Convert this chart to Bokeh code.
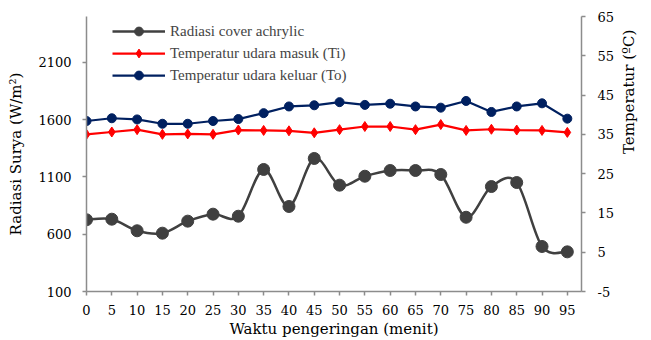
import math
from bokeh.plotting import figure
from bokeh.models import Range1d, LinearAxis, Legend, LegendItem, FixedTicker, ColumnDataSource
from bokeh.embed import file_html
from bokeh.resources import INLINE

# ---- data ----
waktu = [0, 5, 10, 15, 20, 25, 30, 35, 40, 45, 50, 55, 60, 65, 70, 75, 80, 85, 90, 95]
radiasi = [726, 731, 630, 609, 714, 775, 757, 1165, 842, 1261, 1028, 1106, 1156, 1156, 1121, 748, 1016, 1051, 493, 446]
temp_masuk = [35.0, 35.6, 36.2, 35.0, 35.1, 35.0, 36.1, 36.0, 35.9, 35.4, 36.2, 37.0, 37.0, 36.2, 37.5, 36.0, 36.3, 36.1, 36.0, 35.5]
temp_keluar = [38.4, 39.1, 38.8, 37.7, 37.7, 38.4, 38.9, 40.4, 42.1, 42.4, 43.2, 42.5, 42.8, 42.1, 41.8, 43.5, 40.7, 42.1, 42.9, 39.0]
x_ticks = list(range(0, 100, 5))
left_ticks = [100, 600, 1100, 1600, 2100]
right_ticks = [-5, 5, 15, 25, 35, 45, 55, 65]

FONT = "Times"
AX_FONT = "DejaVu Serif"
AXIS_GREY = "#8c8c8c"
C_RAD = "#404040"
C_TI = "#ff0000"
C_TO = "#002060"

p = figure(width=651, height=340, output_backend="svg", toolbar_location=None,
           x_range=Range1d(0, 97.8), y_range=Range1d(100, 2500),
           min_border_left=86, min_border_right=70, min_border_top=16, min_border_bottom=49)
p.outline_line_color = None
p.xgrid.visible = False
p.ygrid.visible = False
p.extra_y_ranges = {"temp": Range1d(-5, 65)}

# smooth (Excel-like) curve for radiasi via cubic bezier segments
n = len(waktu)
x0s, y0s, x1s, y1s, cx0, cy0, cx1, cy1 = [], [], [], [], [], [], [], []
for i in range(n - 1):
    xm, ym = (waktu[i - 1], radiasi[i - 1]) if i > 0 else (waktu[i], radiasi[i])
    xp, yp = (waktu[i + 2], radiasi[i + 2]) if i + 2 < n else (waktu[i + 1], radiasi[i + 1])
    x0s.append(waktu[i]); y0s.append(radiasi[i])
    x1s.append(waktu[i + 1]); y1s.append(radiasi[i + 1])
    cx0.append(waktu[i] + (waktu[i + 1] - xm) / 6); cy0.append(radiasi[i] + (radiasi[i + 1] - ym) / 6)
    cx1.append(waktu[i + 1] - (xp - waktu[i]) / 6); cy1.append(radiasi[i + 1] - (yp - radiasi[i]) / 6)
bz = ColumnDataSource(dict(x0=x0s, y0=y0s, x1=x1s, y1=y1s, cx0=cx0, cy0=cy0, cx1=cx1, cy1=cy1))
p.bezier(x0="x0", y0="y0", x1="x1", y1="y1", cx0="cx0", cy0="cy0", cx1="cx1", cy1="cy1",
         source=bz, line_color=C_RAD, line_width=2.5)
# single-point line: invisible on the plot, used only for the legend swatch
rad_leg_line = p.line(waktu[:1], radiasi[:1], line_color=C_RAD, line_width=2.5)
rad_pts = p.scatter(waktu, radiasi, marker="circle", size=12, fill_color=C_RAD, line_color=C_RAD)

ti_line = p.line(waktu, temp_masuk, y_range_name="temp", line_color=C_TI, line_width=2.25)
ti_pts = p.scatter(waktu, temp_masuk, y_range_name="temp", marker="diamond", size=10,
                   fill_color=C_TI, line_color=C_TI)
to_line = p.line(waktu, temp_keluar, y_range_name="temp", line_color=C_TO, line_width=2.25)
to_pts = p.scatter(waktu, temp_keluar, y_range_name="temp", marker="circle", size=9,
                   fill_color=C_TO, line_color=C_TO)

def style_axis(ax, label):
    ax.axis_label = label
    ax.axis_label_text_font = AX_FONT
    ax.axis_label_text_font_size = "15px"
    ax.axis_label_text_font_style = "normal"
    ax.axis_label_text_color = "black"
    ax.major_label_text_font = AX_FONT
    ax.major_label_text_font_size = "13px"
    ax.major_label_text_color = "black"
    ax.axis_line_color = AXIS_GREY
    ax.axis_line_width = 1.5
    ax.major_tick_line_color = AXIS_GREY
    ax.major_tick_line_width = 1.5
    ax.major_tick_out = 4
    ax.major_tick_in = 0
    ax.minor_tick_line_color = None

xa = p.xaxis[0]
xa.ticker = FixedTicker(ticks=x_ticks)
style_axis(xa, "Waktu pengeringan (menit)")
xa.major_label_standoff = 9
xa.axis_label_standoff = 2
ya = p.yaxis[0]
ya.ticker = FixedTicker(ticks=left_ticks)
style_axis(ya, "Radiasi Surya (W/m²)")
ya.major_label_standoff = 11
ya.axis_label_standoff = 10

ra = LinearAxis(y_range_name="temp", ticker=FixedTicker(ticks=right_ticks))
style_axis(ra, "Temperatur (ºC)")
ra.major_label_standoff = 12
ra.axis_label_standoff = 12
ra.axis_label_orientation = math.pi / 2
ra.major_label_overrides = {t: str(t) for t in right_ticks}
p.add_layout(ra, "right")

legend = Legend(items=[
    LegendItem(label="Radiasi cover achrylic", renderers=[rad_leg_line, rad_pts]),
    LegendItem(label="Temperatur udara masuk (Ti)", renderers=[ti_line, ti_pts]),
    LegendItem(label="Temperatur udara keluar (To)", renderers=[to_line, to_pts]),
], location=(26, 205))
legend.background_fill_alpha = 0
legend.border_line_color = None
legend.label_text_font = FONT
legend.label_text_font_size = "15px"
legend.glyph_width = 53
legend.glyph_height = 22
legend.label_height = 22
legend.label_standoff = 5
legend.spacing = 0
legend.padding = 0
legend.margin = 0
p.add_layout(legend)

open("out.html", "w").write(file_html(p, INLINE))
